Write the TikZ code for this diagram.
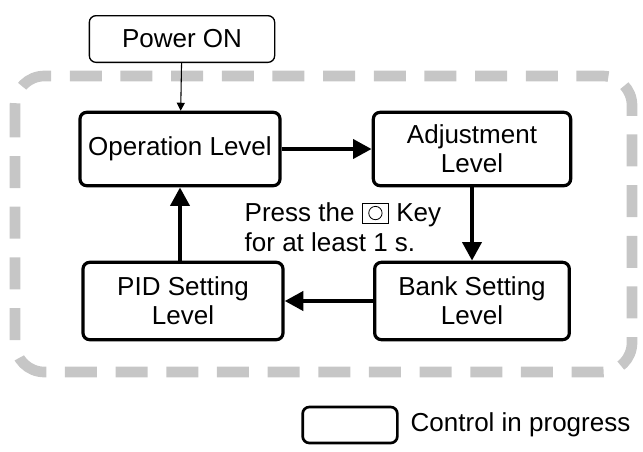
\documentclass[tikz,border=0pt]{standalone}
\usepackage{fontspec}
\setmainfont{Liberation Sans}
\usetikzlibrary{arrows.meta}
\begin{document}
\begin{tikzpicture}[x=0.75pt,y=-0.75pt,
  box/.style={draw,line width=2.4pt,rounded corners=5pt,align=center,font=\fontsize{19.5}{22}\selectfont,inner sep=0pt},
  big/.style={-{Triangle[length=14pt,width=14pt]},line width=3.5pt},
  txt/.style={font=\fontsize{19.5}{22}\selectfont}]
\useasboundingbox (0,0) rectangle (643,451);
\draw[gray!45,line width=8pt,dash pattern=on 24pt off 14pt,rounded corners=22pt] (15,76) rectangle (632,372);
\node[box,line width=1pt,minimum width=139pt,minimum height=35pt] (pw) at (182,39) {Power ON};
\node[box,minimum width=150pt,minimum height=55pt] (op) at (180,149) {Operation Level};
\node[box,minimum width=148pt,minimum height=55pt] (adj) at (472,149) {Adjustment\\Level};
\node[box,minimum width=146pt,minimum height=58pt] (bank) at (472,301) {Bank Setting\\Level};
\node[box,minimum width=150pt,minimum height=58pt] (pid) at (183,301) {PID Setting\\Level};
\draw[-{Triangle[length=6pt,width=6pt]},line width=0.8pt] (pw) -- (op);
\draw[big] (op) -- (adj);
\draw[big] (adj) -- (bank);
\draw[big] (bank) -- (pid);
\draw[big] (pid.north -| op) -- (op);
\node[txt,anchor=west,align=left] (key) at (240,227) {Press the \tikz[baseline=0pt]{\draw[line width=0.5pt] (0,-1pt) rectangle (20pt,14pt); \draw[line width=0.6pt] (10pt,6.5pt) circle (5pt);} Key\\for at least 1 s.};
\node[box,line width=2pt,minimum width=71pt,minimum height=27pt] (leg) at (350,425) {};
\node[txt,anchor=west] (legt) at (406,425) {Control in progress};
\end{tikzpicture}
\end{document}
